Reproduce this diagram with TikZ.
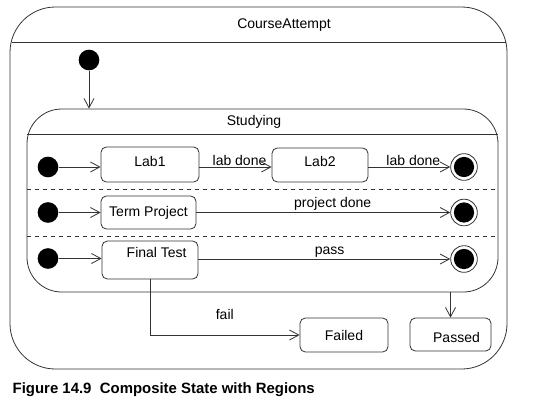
\documentclass[tikz,border=0pt]{standalone}
\usepackage{fontspec}
\setmainfont{Liberation Sans}
\usetikzlibrary{arrows.meta,positioning}

\begin{document}
\begin{tikzpicture}[
        x=0.75pt, y=-0.75pt,
        font=\fontsize{10.5pt}{12pt}\selectfont,
        line/.style={draw=black!80, line width=0.6pt},
        container/.style={line, rectangle},
        statebox/.style={line, rectangle, rounded corners=4pt},
        initdot/.style={circle, fill=black, inner sep=0pt, minimum size=15.5pt},
        finaldot/.style={circle, line, fill=white, inner sep=0pt, minimum size=20pt,
            path picture={\fill[black] (path picture bounding box.center) circle (7.6pt);}},
        trans/.style={line, -{Straight Barb[length=7pt,width=7.5pt]}},
        translabel/.style={above, inner sep=1pt}
    ]
        \useasboundingbox (0,0) rectangle (559,408);

        % outer state
        \node[container, rounded corners=34pt, minimum width=372.75pt, minimum height=271.5pt] (course) at (258.5,188) {};
        \node (courseName) at (284,25) {CourseAttempt};
        \draw[line] (11.5,42) -- (505.5,42);
        \node[initdot] (start) at (89,60) {};

        % composite state with three regions
        \node[container, rounded corners=26pt, minimum width=353.25pt, minimum height=137.25pt] (studying) at (262.5,200.5) {};
        \node (studyingName) at (254,122) {Studying};
        \coordinate (head) at (0,134);
        \coordinate (r1) at (0,189);
        \coordinate (r2) at (0,236);
        \draw[line] (studying.west |- head) -- (studying.east |- head);
        \draw[line, dashed] (studying.west |- r1) -- (studying.east |- r1);
        \draw[line, dashed] (studying.west |- r2) -- (studying.east |- r2);

        % region 1
        \node[initdot] (init1) at (48,167) {};
        \node[statebox, minimum width=73.5pt, minimum height=26.25pt,
            label={[yshift=2.5pt]center:Lab1}] (lab1) at (150,164.5) {};
        \node[statebox, minimum width=72pt, minimum height=25.5pt,
            label={[yshift=2.5pt]center:Lab2}] (lab2) at (320,165) {};
        \node[finaldot] (final1) at (464,167) {};

        % region 2
        \node[initdot] (init2) at (48,212.5) {};
        \node[statebox, minimum width=71.25pt, minimum height=24.75pt] (termProject) at (148.5,212.5) {Term Project};
        \node[finaldot] (final2) at (464,212.5) {};

        % region 3
        \node[initdot] (init3) at (48,258.5) {};
        \node[statebox, minimum width=72pt, minimum height=28.5pt,
            label={[xshift=5pt, yshift=6pt]center:Final Test}] (finalTest) at (150,260) {};
        \node[finaldot] (final3) at (464,259) {};

        % outcomes
        \node[statebox, minimum width=66pt, minimum height=25.5pt] (failed) at (344,335) {Failed};
        \node[statebox, minimum width=60.75pt, minimum height=24.75pt,
            label={[xshift=4.5pt, yshift=-2.5pt]center:Passed}] (passed) at (450.5,334.5) {};

        \path
            (start) edge[trans] (start |- studying.north)
            (init1) edge[trans] (init1 -| lab1.west)
            (init1 -| lab1.east) edge[trans] node[translabel, xshift=3pt] {lab done} (init1 -| lab2.west)
            (init1 -| lab2.east) edge[trans] node[translabel, xshift=3pt] {lab done} (final1)
            (init2) edge[trans] (termProject)
            (termProject) edge[trans] node[translabel, xshift=7pt] {project done} (final2)
            (init3) edge[trans] (init3 -| finalTest.west)
            (finalTest.east |- final3) edge[trans] node[translabel, xshift=4pt] {pass} (final3)
            (studying.south -| passed.north) edge[trans] (passed.north);
        \draw[trans] (finalTest.south) |- node[translabel, pos=0.75, above=10pt] {fail} (failed.west);

        \node[anchor=base west, font=\fontsize{11.2pt}{13pt}\selectfont\bfseries] (caption) at (8,393)
            {Figure 14.9~~Composite State with Regions};
    \end{tikzpicture}
\end{document}
